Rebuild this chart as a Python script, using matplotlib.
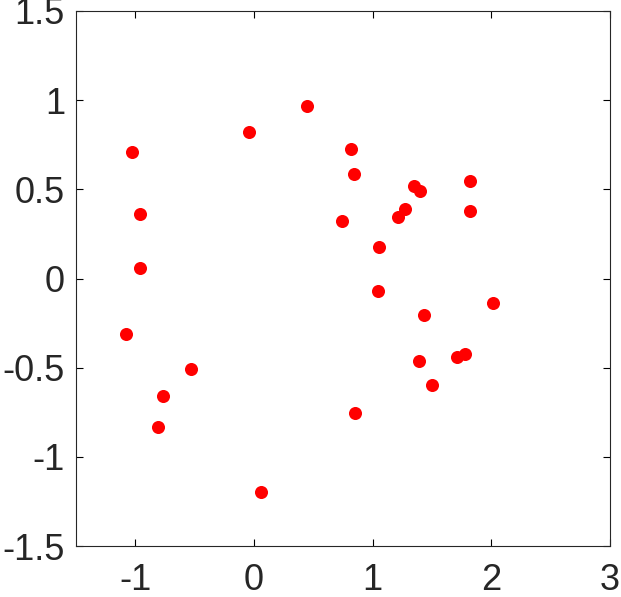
import matplotlib.pyplot as plt

# point coordinates
x = [-1.025, -0.958, -0.958, -1.076, -0.529, -0.765, -0.807, -0.042, 0.445, 0.059,
     0.815, 0.840, 0.739, 1.050, 1.042, 0.849, 1.345, 1.403, 1.269, 1.210,
     1.824, 1.824, 2.017, 1.429, 1.387, 1.496, 1.714, 1.782]
y = [0.710, 0.362, 0.059, -0.311, -0.508, -0.659, -0.833, 0.822, 0.967, -1.197,
     0.726, 0.586, 0.322, 0.176, -0.070, -0.754, 0.519, 0.491, 0.390, 0.345,
     0.547, 0.379, -0.137, -0.205, -0.463, -0.597, -0.440, -0.423]

xticks = [-1, 0, 1, 2, 3]
yticks = [-1.5, -1, -0.5, 0, 0.5, 1, 1.5]

plt.rcParams['font.family'] = ['Liberation Sans', 'DejaVu Sans']

fig = plt.figure(figsize=(6.21, 5.97), dpi=100)
ax = fig.add_axes([0.1224, 0.0854, 0.8599, 0.8962])

ax.plot(x, y, 'o', color='#ff0000', markersize=9.4, markeredgewidth=0)

ax.set_xlim(-1.5, 3)
ax.set_ylim(-1.5, 1.5)
ax.set_xticks(xticks)
ax.set_xticklabels([f'{t:g}' for t in xticks])
ax.set_yticks(yticks)
ax.set_yticklabels([f'{t:g}' for t in yticks])

ax.tick_params(direction='in', top=True, right=True, length=5, width=0.8,
               labelsize=26, labelcolor='#262626')
ax.tick_params(axis='x', pad=12)
ax.tick_params(axis='y', pad=8)
for s in ax.spines.values():
    s.set_linewidth(0.8)
    s.set_color('#262626')

fig.savefig('out.png', dpi=100)
